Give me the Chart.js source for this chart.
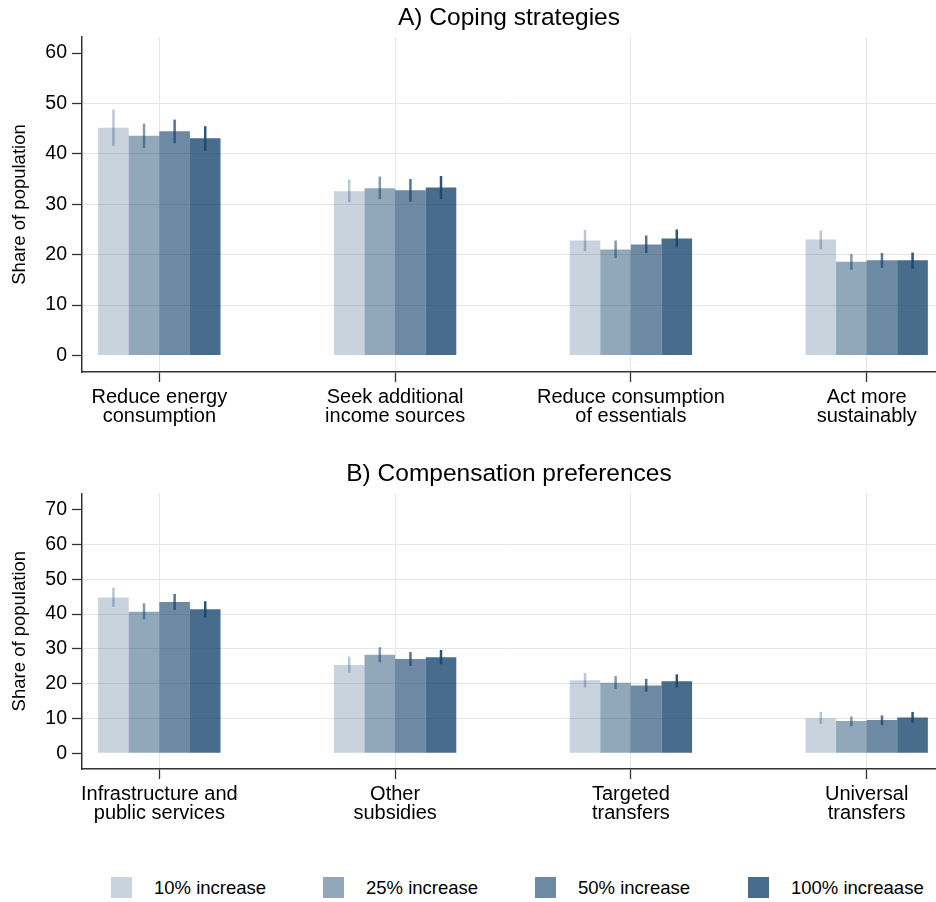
<!DOCTYPE html>
<html>
<head>
<meta charset="utf-8">
<script src="https://cdn.jsdelivr.net/npm/chart.js@4.4.0/dist/chart.umd.min.js"></script>
<style>
  body { margin: 0; background: #fff; font-family: "Liberation Sans", Arial, Helvetica, sans-serif; }
  #wrap { position: relative; width: 936px; height: 902px; }
  canvas { display: block; }
  #legend { position: relative; width: 936px; height: 73px; }
  .item { position: absolute; top: 48px; height: 21px; display: flex; align-items: center; font-size: 18.5px; color: #000; }
  .box { width: 21px; height: 21px; margin-right: 22px; }
</style>
</head>
<body>
<div id="wrap">
  <canvas id="chartA" width="936" height="432"></canvas>
  <canvas id="chartB" width="936" height="397"></canvas>
  <div id="legend"></div>
</div>
<script>
// series
const seriesNames = ['10% increase', '25% increase', '50% increase', '100% increaase'];
const seriesAlpha = [0.24, 0.48, 0.64, 0.8];
const errAlpha = [0.3, 0.55, 0.75, 0.92];

// A) coping strategies
const copingLabels = [['Reduce energy', 'consumption'], ['Seek additional', 'income sources'], ['Reduce consumption', 'of essentials'], ['Act more', 'sustainably']];
const coping10 = [45.2, 32.6, 22.8, 23.0];
const coping25 = [43.6, 33.2, 21.0, 18.6];
const coping50 = [44.5, 32.8, 22.0, 18.9];
const coping100 = [43.1, 33.3, 23.2, 18.9];
const copingLow10 = [41.6, 30.4, 20.7, 21.1];
const copingHigh10 = [48.8, 34.9, 24.9, 24.8];
const copingLow25 = [41.2, 31.0, 19.3, 17.0];
const copingHigh25 = [46.0, 35.5, 22.8, 20.1];
const copingLow50 = [42.1, 30.5, 20.3, 17.4];
const copingHigh50 = [46.8, 35.0, 23.8, 20.3];
const copingLow100 = [40.6, 31.0, 21.4, 17.2];
const copingHigh100 = [45.5, 35.6, 25.0, 20.4];
const copingTicks = [0, 10, 20, 30, 40, 50, 60];

// B) compensation preferences
const compLabels = [['Infrastructure and', 'public services'], ['Other', 'subsidies'], ['Targeted', 'transfers'], ['Universal', 'transfers']];
const comp10 = [44.8, 25.4, 21.0, 10.1];
const comp25 = [40.7, 28.3, 20.3, 9.3];
const comp50 = [43.5, 27.1, 19.5, 9.6];
const comp100 = [41.4, 27.6, 20.7, 10.3];
const compLow10 = [42.1, 23.2, 18.9, 8.5];
const compHigh10 = [47.6, 27.8, 23.1, 11.9];
const compLow25 = [38.5, 26.2, 18.5, 7.8];
const compHigh25 = [43.1, 30.5, 22.2, 10.6];
const compLow50 = [41.2, 25.1, 17.7, 8.1];
const compHigh50 = [45.8, 29.1, 21.4, 10.9];
const compLow100 = [39.0, 25.6, 18.9, 8.8];
const compHigh100 = [43.7, 29.7, 22.7, 11.9];
const compTicks = [0, 10, 20, 30, 40, 50, 60, 70];

const navy = (a) => `rgba(26,71,111,${a})`;
const FONT = '"Liberation Sans", Arial, Helvetica, sans-serif';

const errorBars = {
  id: 'errorBars',
  afterDatasetsDraw(chart) {
    const ctx = chart.ctx;
    const y = chart.scales.y;
    chart.data.datasets.forEach((ds, i) => {
      const meta = chart.getDatasetMeta(i);
      ctx.save();
      ctx.strokeStyle = ds.errColor;
      ctx.lineWidth = 2.5;
      meta.data.forEach((bar, j) => {
        ctx.beginPath();
        ctx.moveTo(bar.x, y.getPixelForValue(ds.low[j]));
        ctx.lineTo(bar.x, y.getPixelForValue(ds.high[j]));
        ctx.stroke();
      });
      ctx.restore();
    });
  }
};

function makeChart(id, title, titlePad, labels, means, lows, highs, yTicks, yMin, yMax) {
  const datasets = means.map((m, i) => ({
    label: seriesNames[i],
    data: m.map((v, j) => ({ x: j + 1, y: v })),
    low: lows[i],
    high: highs[i],
    backgroundColor: navy(seriesAlpha[i]),
    errColor: navy(errAlpha[i]),
    borderWidth: 0,
    categoryPercentage: 0.519,
    barPercentage: 1.0
  }));
  return new Chart(document.getElementById(id), {
    type: 'bar',
    data: { datasets },
    plugins: [errorBars],
    options: {
      responsive: false,
      animation: false,
      layout: { padding: { left: 0, right: 0, top: 0, bottom: 0 } },
      plugins: {
        legend: { display: false },
        tooltip: { enabled: false },
        title: {
          display: true,
          text: title,
          fullSize: false,
          color: '#000',
          font: { family: FONT, size: 24.5, weight: 'normal', lineHeight: 1.2 },
          padding: titlePad
        }
      },
      scales: {
        x: {
          type: 'linear',
          min: 0.672,
          max: 4.294,
          offset: false,
          afterBuildTicks: (s) => { s.ticks = labels.map((l, i) => ({ value: i + 1 })); },
          afterFit: (s) => { s.height = 60; },
          grid: { offset: false, color: '#e6e6e6', lineWidth: 1, tickLength: 10, tickColor: '#333', tickWidth: 1.3 },
          border: { display: true, color: '#333', width: 1.5 },
          ticks: {
            autoSkip: false,
            maxRotation: 0,
            padding: 5.5,
            color: '#000',
            font: { family: FONT, size: 20, lineHeight: 0.96 },
            callback: (v) => labels[Math.round(v) - 1]
          }
        },
        y: {
          min: yMin,
          max: yMax,
          afterBuildTicks: (s) => { s.ticks = yTicks.map(v => ({ value: v })); },
          afterFit: (s) => { s.width = 82; },
          grid: {
            color: (c) => (c.tick && (c.tick.value === yTicks[0] || c.tick.value === yTicks[yTicks.length - 1])) ? 'rgba(0,0,0,0)' : '#e6e6e6',
            lineWidth: 1,
            tickLength: 10,
            tickColor: '#333',
            tickWidth: 1.3
          },
          border: { display: true, color: '#333', width: 1.5 },
          ticks: {
            padding: 5,
            color: '#000',
            font: { family: FONT, size: 19.5 },
            callback: (v) => v
          },
          title: {
            display: true,
            text: 'Share of population',
            color: '#000',
            font: { family: FONT, size: 18.5, lineHeight: 1.2 },
            padding: { top: 8.4, bottom: 0 }
          }
        }
      }
    }
  });
}

makeChart('chartA', 'A) Coping strategies', { top: 3.4, bottom: 4.2 }, copingLabels,
  [coping10, coping25, coping50, coping100],
  [copingLow10, copingLow25, copingLow50, copingLow100],
  [copingHigh10, copingHigh25, copingHigh50, copingHigh100],
  copingTicks, -3.3, 63.2);

makeChart('chartB', 'B) Compensation preferences', { top: 27.7, bottom: 4.2 }, compLabels,
  [comp10, comp25, comp50, comp100],
  [compLow10, compLow25, compLow50, compLow100],
  [compHigh10, compHigh25, compHigh50, compHigh100],
  compTicks, -4.5, 74.7);

// legend
const legendLeft = [111, 323, 535, 748];
const legend = document.getElementById('legend');
seriesNames.forEach((name, i) => {
  const item = document.createElement('div');
  item.className = 'item';
  item.style.left = legendLeft[i] + 'px';
  const box = document.createElement('span');
  box.className = 'box';
  box.style.background = navy(seriesAlpha[i]);
  const txt = document.createElement('span');
  txt.textContent = name;
  item.appendChild(box);
  item.appendChild(txt);
  legend.appendChild(item);
});
</script>
</body>
</html>
